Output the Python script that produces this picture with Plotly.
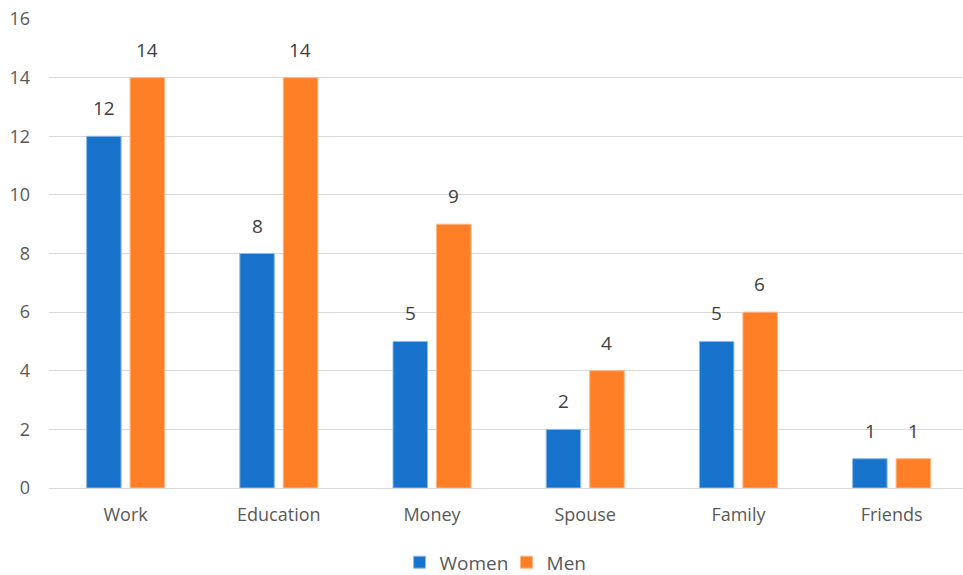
import plotly.graph_objects as go

categories = ["Work", "Education", "Money", "Spouse", "Family", "Friends"]
women = [12, 8, 5, 2, 5, 1]
men = [14, 14, 9, 4, 6, 1]
y_ticks = [0, 2, 4, 6, 8, 10, 12, 14, 16]

FONT = "Open Sans, Liberation Sans, sans-serif"
TXT = "#595959"
LBL = "#404040"

fig = go.Figure()
fig.add_trace(go.Bar(
    x=categories, y=women, name="Women",
    marker=dict(color="#1873CC", line=dict(color="#8dbbe8", width=1)),
))
fig.add_trace(go.Bar(
    x=categories, y=men, name="Men",
    marker=dict(color="#FF7F27", line=dict(color="#ffb580", width=1)),
))

# data labels above the bars
for series, shift in ((women, -21.5), (men, 21.5)):
    for cat, val in zip(categories, series):
        fig.add_annotation(x=cat, y=val, text=str(val), showarrow=False,
                           xshift=shift, yshift=13, yanchor="bottom",
                           font=dict(family=FONT, size=19, color=LBL))

fig.update_layout(
    width=963, height=575,
    margin=dict(l=49, r=0, t=19, b=87, autoexpand=False),
    paper_bgcolor="white", plot_bgcolor="white",
    barmode="group", bargap=0.432, bargroupgap=0.207,
    font=dict(family=FONT, size=18, color=TXT),
    showlegend=True,
    legend=dict(orientation="h", xref="container", yref="container",
                x=0.526, xanchor="center", y=0.022, yanchor="middle",
                entrywidth=62, entrywidthmode="pixels",
                font=dict(family=FONT, size=19, color=TXT), traceorder="normal"),
    xaxis=dict(range=[-0.5, 5.466], showgrid=False, zeroline=False,
               showline=False, ticks="", ticklabelstandoff=14,
               tickfont=dict(size=18, color=TXT)),
    yaxis=dict(range=[0, 16], tickvals=y_ticks, showgrid=True, gridcolor="#d9d9d9",
               gridwidth=1, zeroline=True, zerolinecolor="#d9d9d9", zerolinewidth=1,
               showline=False, ticks="", ticklabelstandoff=18,
               tickfont=dict(size=18, color=TXT)),
)

fig.write_html("out.html")
